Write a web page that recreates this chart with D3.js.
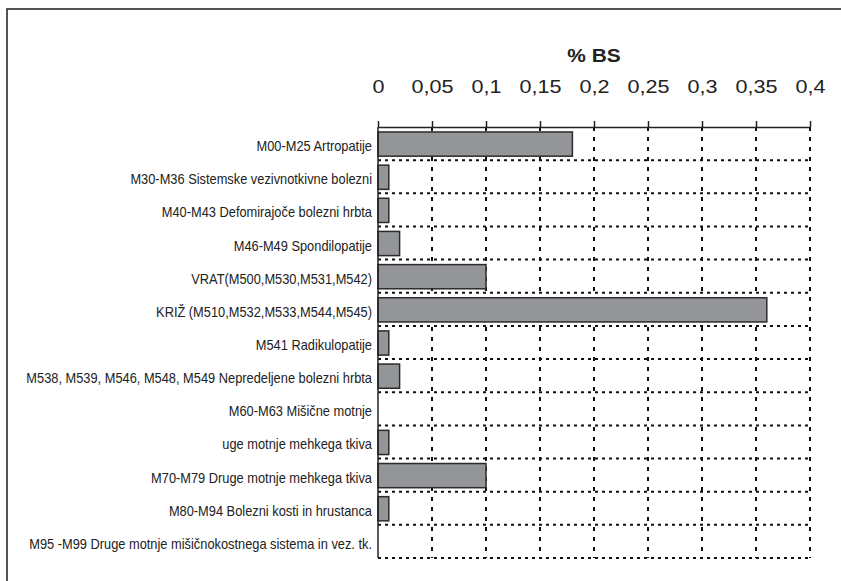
<!DOCTYPE html>
<html>
<head>
<meta charset="utf-8">
<script src="https://cdn.jsdelivr.net/npm/d3@7/dist/d3.min.js"></script>
<style>
  body { margin: 0; background: #fff; }
  svg { display: block; font-family: "Liberation Sans", Arial, sans-serif; }
</style>
</head>
<body>
<div class="canva"></div>
<script>
const categories = [
  "M00-M25 Artropatije",
  "M30-M36 Sistemske vezivnotkivne bolezni",
  "M40-M43 Defomirajoče bolezni hrbta",
  "M46-M49 Spondilopatije",
  "VRAT(M500,M530,M531,M542)",
  "KRIŽ (M510,M532,M533,M544,M545)",
  "M541 Radikulopatije",
  "M538, M539, M546, M548, M549 Nepredeljene bolezni hrbta",
  "M60-M63 Mišične motnje",
  "uge motnje mehkega tkiva",
  "M70-M79 Druge motnje mehkega tkiva",
  "M80-M94 Bolezni kosti in hrustanca",
  "M95 -M99 Druge motnje mišičnokostnega sistema in vez. tk."
];
const values = [0.18, 0.01, 0.01, 0.02, 0.1, 0.36, 0.01, 0.02, 0, 0.01, 0.1, 0.01, 0];
const tickValues = [0, 0.05, 0.1, 0.15, 0.2, 0.25, 0.3, 0.35, 0.4];
const title = "% BS";

const width = 841, height = 581;
const margin = { top: 127, right: 31, bottom: 23, left: 378 };

const svg = d3.select(".canva").append("svg")
    .attr("width", width)
    .attr("height", height)
    .attr("viewBox", [0, 0, width, height]);

// outer frame (runs off the right and bottom edges)
svg.append("rect")
    .attr("x", 7).attr("y", 9)
    .attr("width", 900).attr("height", 700)
    .attr("fill", "none")
    .attr("stroke", "#2a2a2a")
    .attr("stroke-width", 1.6);

const x = d3.scaleLinear([0, 0.4], [margin.left, width - margin.right]);
const rows = d3.scaleBand(categories, [margin.top, height - margin.bottom]);

const fmt = d => String(d).replace(".", ",");

// dotted grid
const grid = svg.append("g")
    .attr("stroke", "#111")
    .attr("stroke-width", 2)
    .attr("fill", "none");

grid.selectAll(".h").data(categories).join("line")
    .attr("x1", x(0)).attr("x2", x(0.4))
    .attr("y1", d => rows(d) + rows.step())
    .attr("y2", d => rows(d) + rows.step())
    .attr("stroke-dasharray", "3,4");

grid.selectAll(".v").data(tickValues.slice(1)).join("line")
    .attr("x1", d => x(d)).attr("x2", d => x(d))
    .attr("y1", margin.top).attr("y2", height - margin.bottom)
    .attr("stroke-dasharray", "4,6");

// bars
svg.append("g").selectAll("rect").data(values).join("rect")
    .attr("x", x(0))
    .attr("y", (d, i) => rows(categories[i]) + rows.step() * 0.15)
    .attr("width", d => x(d) - x(0))
    .attr("height", d => d > 0 ? rows.bandwidth() * 0.73 : 0)
    .attr("fill", "#939598")
    .attr("stroke", "#2b2b2b")
    .attr("stroke-width", 1.5);

// top axis
svg.append("g")
    .attr("transform", `translate(0,${margin.top})`)
    .call(d3.axisTop(x).tickValues(tickValues).tickFormat(fmt).tickSize(6).tickPadding(0).tickSizeOuter(0))
    .call(g => g.select(".domain").attr("stroke", "#222").attr("stroke-width", 1.5))
    .call(g => g.selectAll(".tick line").attr("stroke", "#222").attr("stroke-width", 1.5))
    .call(g => g.selectAll(".tick text")
        .attr("y", 0)
        .attr("transform", "translate(0,-34) scale(1.2,1)")
        .attr("fill", "#222")
        .attr("font-size", 18)
        .attr("font-family", "'Liberation Sans', Arial, sans-serif"));

// left axis line
svg.append("line")
    .attr("x1", x(0)).attr("x2", x(0))
    .attr("y1", margin.top).attr("y2", height - margin.bottom)
    .attr("stroke", "#222")
    .attr("stroke-width", 1.5);

// category labels
svg.append("g").selectAll("text").data(categories).join("text")
    .attr("transform", d => `translate(${x(0) - 6},${rows(d) + rows.step() / 2 + 7.5}) scale(0.93,1)`)
    .attr("text-anchor", "end")
    .attr("font-size", 13.8)
    .attr("fill", "#222")
    .text(d => d);

// title
svg.append("text")
    .attr("transform", "translate(594,62) scale(1.1,1)")
    .attr("text-anchor", "middle")
    .attr("font-size", 19)
    .attr("font-weight", "bold")
    .attr("fill", "#222")
    .text(title);
</script>
</body>
</html>
